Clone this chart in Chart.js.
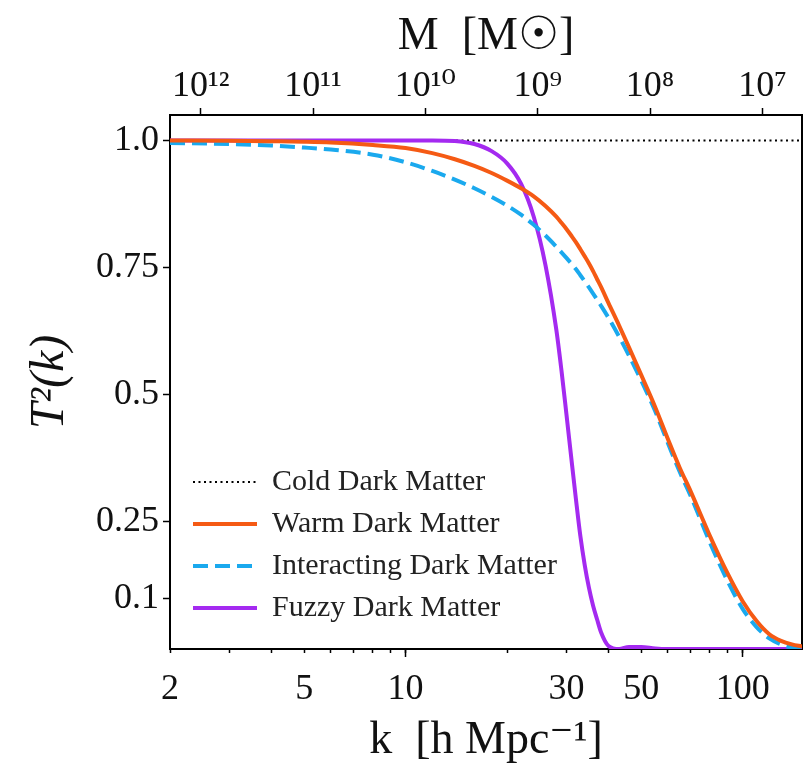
<!DOCTYPE html>
<html lang="en">
<head>
<meta charset="UTF-8">
<title>Transfer functions of dark matter models</title>
<style>
    html, body {
        margin: 0;
        padding: 0;
        background: #fff;
    }

    .chart-box {
        position: relative;
        width: 807px;
        height: 769px;
    }
</style>
</head>
<body>

<div class="chart-box">
    <canvas id="tfChart"></canvas>
</div>

<script src="https://cdn.jsdelivr.net/npm/chart.js"></script>
<script>
    // wavenumbers k [h/Mpc] the curves are sampled at
    const kValues = [2, 3, 4, 5, 6, 8, 10, 12, 14, 16, 18, 20, 22, 24, 26, 28,
        29, 30, 31, 32, 33, 34, 35, 36, 37, 38, 40, 43, 46, 50, 55, 60, 65, 70, 75, 80,
        90, 100, 110, 120, 130, 140, 150];

    // T^2(k)
    const cdmValues = [1, 1, 1, 1, 1, 1, 1, 1, 1, 1, 1, 1, 1, 1, 1, 1,
        1, 1, 1, 1, 1, 1, 1, 1, 1, 1, 1, 1, 1, 1, 1, 1, 1, 1, 1, 1,
        1, 1, 1, 1, 1, 1, 1];
    const wdmValues = [1.0, 0.9995, 0.9985, 0.9975, 0.996, 0.991, 0.985, 0.975, 0.963, 0.950, 0.936, 0.921, 0.906, 0.890, 0.871, 0.850,
        0.838, 0.826, 0.813, 0.800, 0.786, 0.772, 0.758, 0.743, 0.727, 0.712, 0.680, 0.636, 0.593, 0.539, 0.476, 0.413, 0.357, 0.311, 0.265, 0.222,
        0.150, 0.094, 0.055, 0.029, 0.016, 0.009, 0.005];
    const idmValues = [0.995, 0.993, 0.990, 0.986, 0.982, 0.972, 0.957, 0.940, 0.923, 0.906, 0.889, 0.872, 0.854, 0.834, 0.813, 0.791,
        0.780, 0.769, 0.758, 0.747, 0.735, 0.723, 0.711, 0.699, 0.687, 0.675, 0.651, 0.614, 0.577, 0.528, 0.468, 0.405, 0.349, 0.302, 0.254, 0.209,
        0.135, 0.079, 0.043, 0.021, 0.009, 0.003, 0.0005];
    const fdmValues = [1.0, 1.0, 1.0, 1.0, 1.0, 1.0, 1.0, 1.0, 0.999, 0.993, 0.979, 0.955, 0.915, 0.850, 0.755, 0.628,
        0.548, 0.462, 0.377, 0.296, 0.222, 0.165, 0.120, 0.085, 0.058, 0.033, 0.006, 0.0, 0.004, 0.004, 0.001, 0.0, 0.0, 0.0, 0.0, 0.0,
        0.0, 0.0, 0.0, 0.0, 0.0, 0.0, 0.0];

    // axis ticks
    const kTickValues = [2, 3, 4, 5, 6, 7, 8, 9, 10, 20, 30, 40, 50, 60, 70, 80, 90, 100];
    const kLabelled = [2, 5, 10, 30, 50, 100];
    const kMajorTicks = [10, 100];
    const massTickValues = [1e12, 1e11, 1e10, 1e9, 1e8, 1e7];
    const massTickLabels = ['10¹²', '10¹¹', '10¹⁰', '10⁹', '10⁸', '10⁷'];
    const yTickValues = [0.1, 0.25, 0.5, 0.75, 1.0];
    const yTickLabels = ['0.1', '0.25', '0.5', '0.75', '1.0'];

    const kMin = 2;
    const kMax = 150;
    const massNorm = 1.5e13; // M = massNorm * k^-3

    const serif = "'Liberation Serif', 'DejaVu Serif', serif";
    const ink = '#111';

    const data = {
        labels: kValues,
        datasets: [{
            label: 'Cold Dark Matter',
            data: cdmValues,
            borderColor: '#000',
            borderWidth: 2,
            borderDash: [2, 3.5],
            order: 3
        }, {
            label: 'Warm Dark Matter',
            data: wdmValues,
            borderColor: '#f55a14',
            borderWidth: 4,
            order: 0
        }, {
            label: 'Interacting Dark Matter',
            data: idmValues,
            borderColor: '#1aa9ee',
            borderWidth: 4,
            borderDash: [15, 7],
            order: 1
        }, {
            label: 'Fuzzy Dark Matter',
            data: fdmValues,
            borderColor: '#a42af0',
            borderWidth: 4,
            order: 2
        }]
    };
    data.datasets.forEach(ds => { ds.xAxisID = 'x'; ds.yAxisID = 'y'; });

    // legend items: keep each line's dash and width
    function legendLabels(chart) {
        const items = Chart.defaults.plugins.legend.labels.generateLabels(chart);
        items.forEach(item => {
            const ds = chart.data.datasets[item.datasetIndex];
            item.lineDash = ds.borderDash || [];
            item.lineWidth = ds.borderWidth;
            item.strokeStyle = ds.borderColor;
        });
        return items;
    }

    // the chartArea legend sits at the top of the plot; push it to the lower left
    const legendOffset = { x: 11, y: 101 };
    const moveLegend = {
        id: 'moveLegend',
        afterLayout(chart) {
            const lg = chart.legend;
            if (!lg) return;
            lg.left += legendOffset.x;
            lg.right += legendOffset.x;
            lg.top += legendOffset.y;
            lg.bottom += legendOffset.y;
        }
    };

    const config = {
        type: 'line',
        data: data,
        plugins: [moveLegend],
        options: {
            responsive: true,
            maintainAspectRatio: false,
            animation: false,
            layout: { padding: 0 },
            elements: {
                point: { radius: 0 },
                line: { cubicInterpolationMode: 'monotone', borderCapStyle: 'butt', fill: false }
            },
            plugins: {
                tooltip: { enabled: false },
                legend: {
                    position: 'chartArea',
                    align: 'end',
                    labels: {
                        usePointStyle: true,
                        pointStyle: 'line',
                        pointStyleWidth: 64,
                        padding: 12,
                        color: '#222',
                        font: { family: serif, size: 30 },
                        generateLabels: legendLabels,
                        sort: (a, b) => a.datasetIndex - b.datasetIndex
                    }
                }
            },
            scales: {
                x: {
                    type: 'logarithmic',
                    position: 'bottom',
                    min: kMin,
                    max: kMax,
                    afterBuildTicks: s => { s.ticks = kTickValues.map(v => ({ value: v })); },
                    afterFit: s => { s.height = 120; },
                    ticks: {
                        autoSkip: false,
                        maxRotation: 0,
                        padding: 15,
                        color: ink,
                        font: { family: serif, size: 36 },
                        callback: v => kLabelled.includes(v) ? String(v) : ''
                    },
                    grid: { drawOnChartArea: false, tickLength: 4, tickWidth: 1.5, tickColor: '#000' },
                    border: { color: '#000', width: 2 },
                    title: {
                        display: true,
                        text: 'k  [h Mpc⁻¹]',
                        color: ink,
                        font: { family: serif, size: 46 },
                        padding: { top: 0, bottom: 0 }
                    }
                },
                xMajor: {
                    type: 'logarithmic',
                    axis: 'x',
                    position: { y: 0 },
                    min: kMin,
                    max: kMax,
                    afterBuildTicks: s => { s.ticks = kMajorTicks.map(v => ({ value: v })); },
                    ticks: { display: false },
                    grid: { drawOnChartArea: false, tickLength: 8, tickWidth: 1.5, tickColor: '#000' },
                    border: { display: false }
                },
                xMass: {
                    type: 'logarithmic',
                    axis: 'x',
                    position: 'top',
                    reverse: true,
                    min: massNorm / Math.pow(kMax, 3),
                    max: massNorm / Math.pow(kMin, 3),
                    afterBuildTicks: s => { s.ticks = massTickValues.map(v => ({ value: v })); },
                    afterFit: s => { s.height = 115; },
                    ticks: {
                        autoSkip: false,
                        maxRotation: 0,
                        padding: 0,
                        color: ink,
                        font: { family: serif, size: 36 },
                        callback: (v, i) => massTickLabels[i]
                    },
                    grid: { drawOnChartArea: false, tickLength: 7, tickWidth: 1.5, tickColor: '#000' },
                    border: { color: '#000', width: 2 },
                    title: {
                        display: true,
                        text: 'M  [M☉]',
                        color: ink,
                        font: { family: serif, size: 46 },
                        padding: { top: 9, bottom: 0 }
                    }
                },
                y: {
                    type: 'linear',
                    position: 'left',
                    min: 0,
                    max: 1.05,
                    afterBuildTicks: s => { s.ticks = yTickValues.map(v => ({ value: v })); },
                    afterFit: s => { s.width = 170; },
                    ticks: {
                        autoSkip: false,
                        padding: 4,
                        color: ink,
                        font: { family: serif, size: 36 },
                        callback: (v, i) => yTickLabels[i]
                    },
                    grid: { drawOnChartArea: false, tickLength: 7, tickWidth: 1.5, tickColor: '#000' },
                    border: { color: '#000', width: 2 },
                    title: {
                        display: true,
                        text: 'T²(k)',
                        color: ink,
                        font: { family: serif, size: 48, style: 'italic' },
                        padding: { top: 22, bottom: 0 }
                    }
                },
                yRight: {
                    type: 'linear',
                    position: 'right',
                    min: 0,
                    max: 1.05,
                    afterFit: s => { s.width = 5; },
                    ticks: { display: false },
                    grid: { drawOnChartArea: false, drawTicks: false },
                    border: { color: '#000', width: 2 }
                }
            }
        }
    };

    const tfChart = new Chart(document.getElementById('tfChart'), config);
</script>

</body>
</html>
